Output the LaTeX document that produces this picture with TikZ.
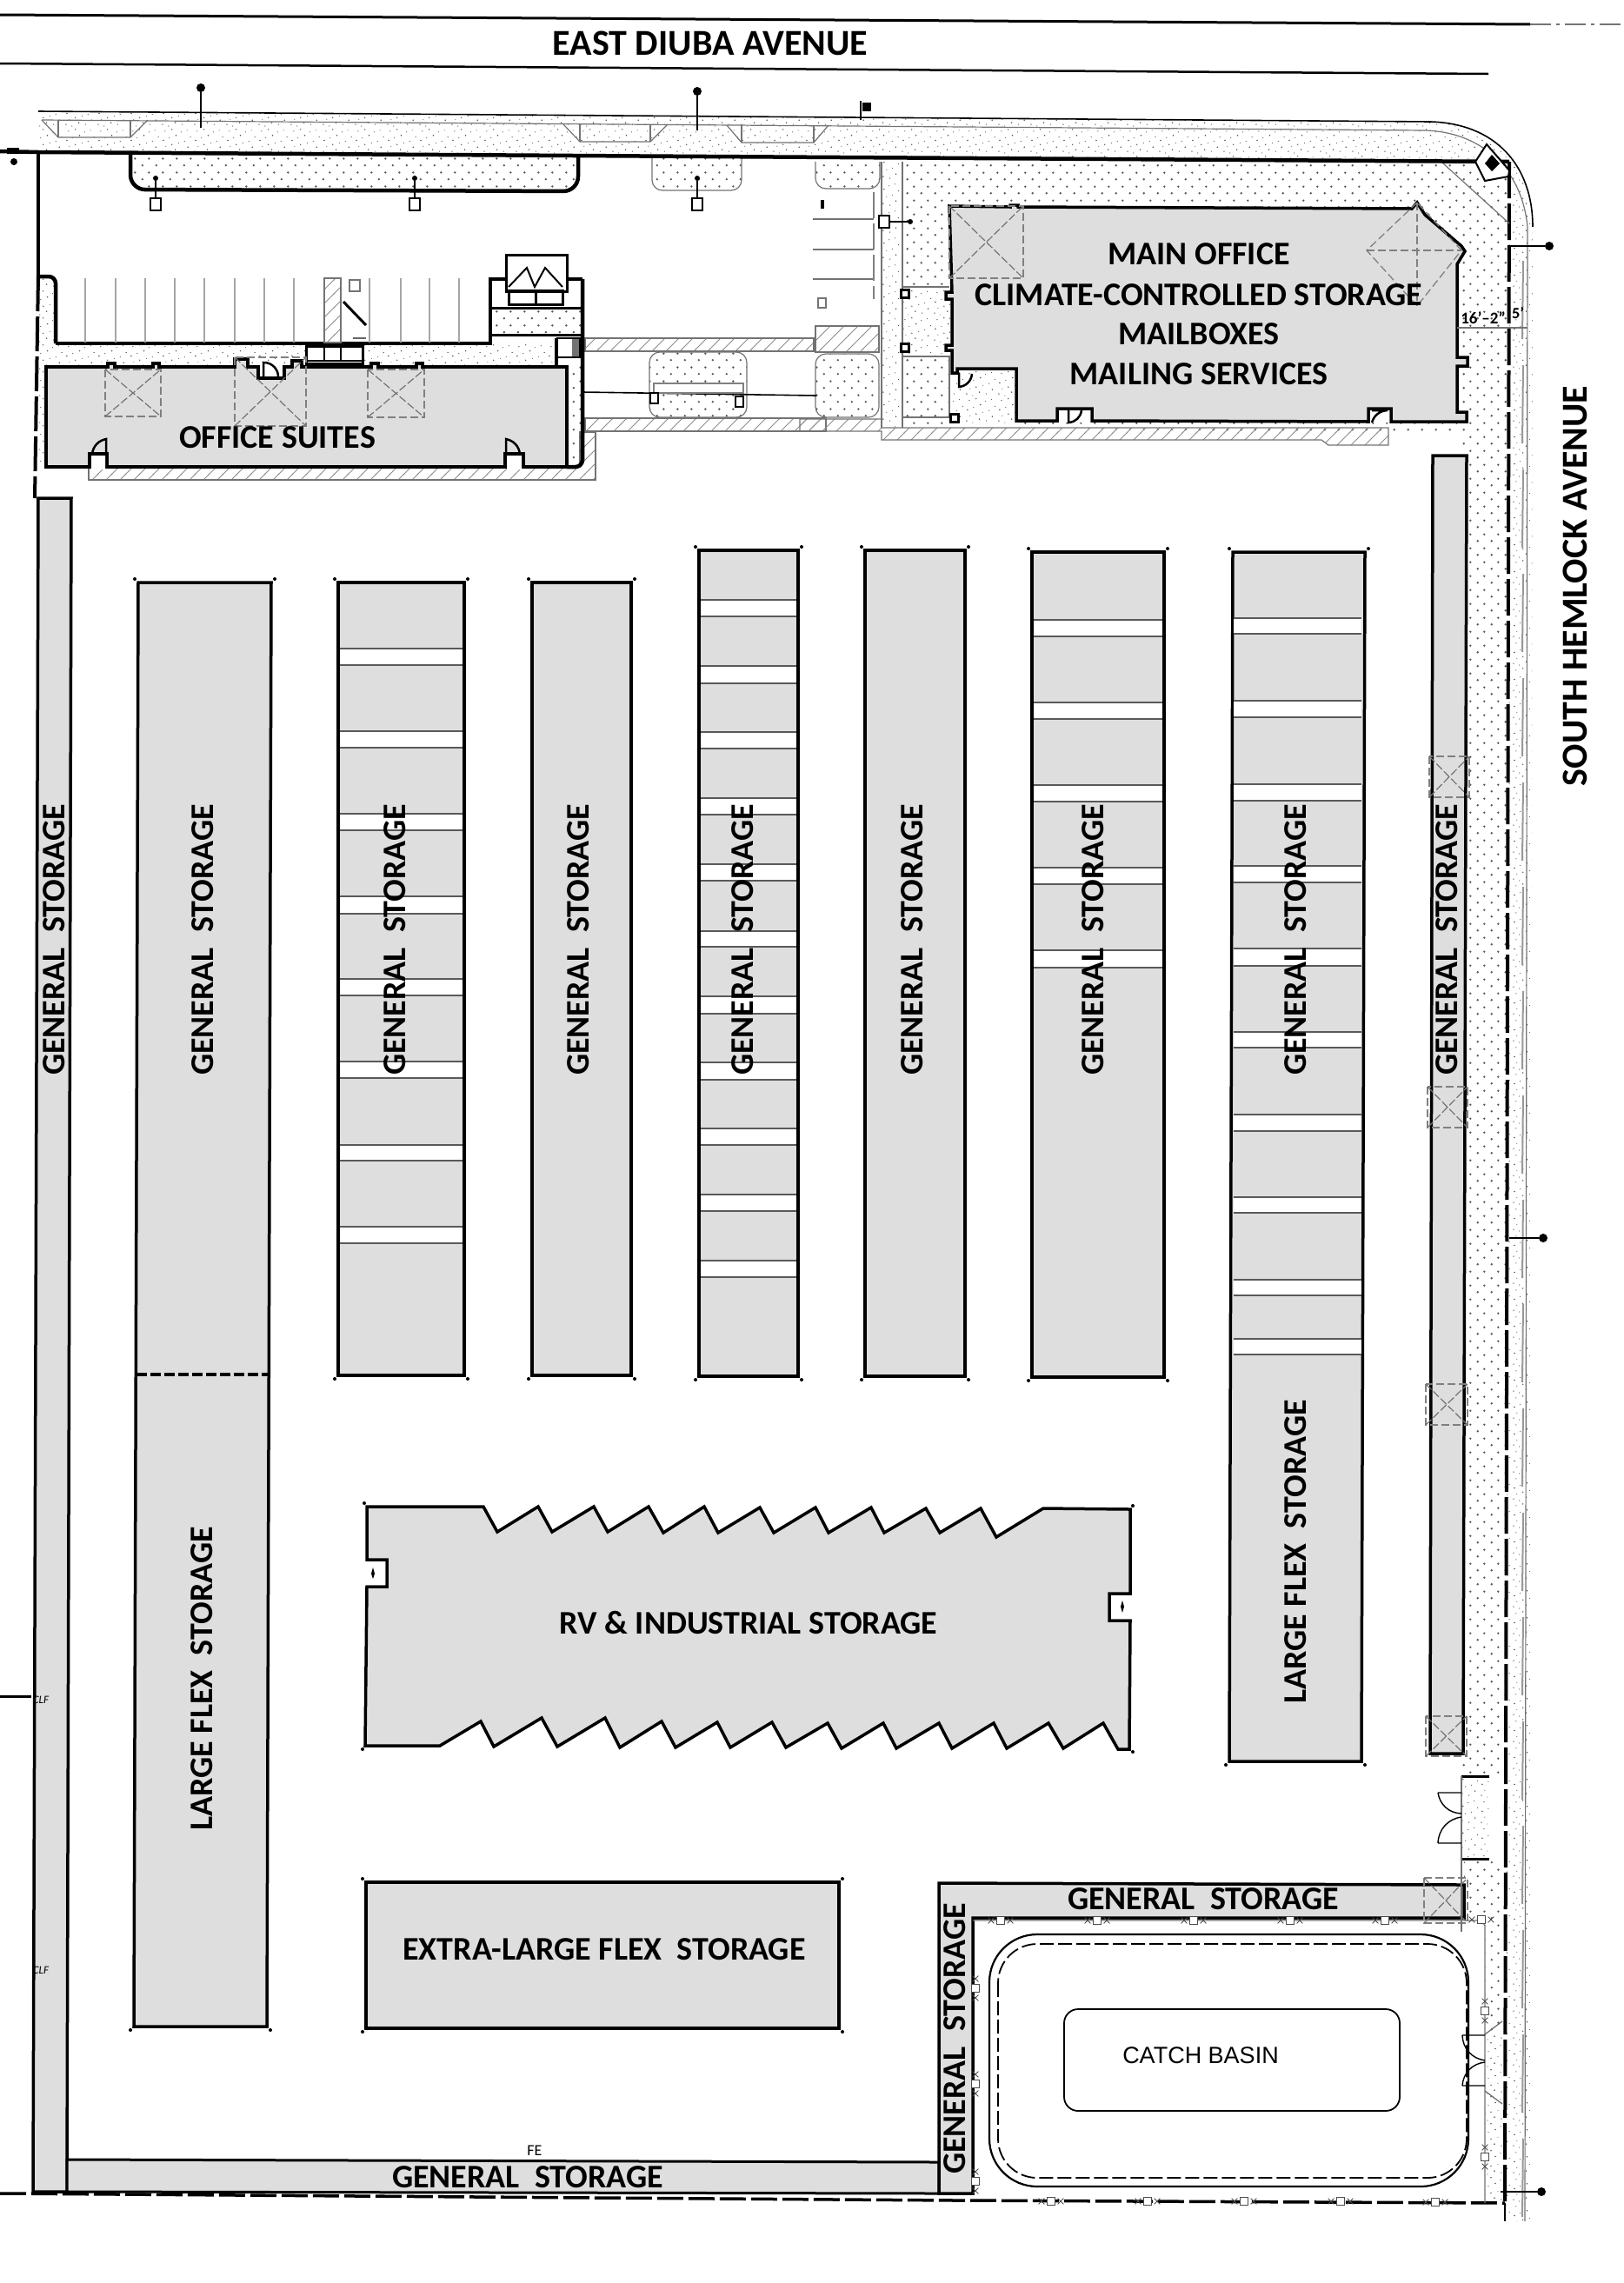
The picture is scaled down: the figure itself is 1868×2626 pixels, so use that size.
\documentclass[tikz,border=0pt]{standalone}
\usepackage{fontspec}
\setmainfont{Carlito}
\newfontfamily\basinfont{Liberation Sans}
\usetikzlibrary{patterns,shapes.misc}
\definecolor{bayfill}{HTML}{DEDEDE}
\pgfdeclarepatternformonly{plantdots}{\pgfqpoint{0pt}{0pt}}{\pgfqpoint{16pt}{16pt}}{\pgfqpoint{16pt}{16pt}}{%
    \pgfpathcircle{\pgfqpoint{4pt}{4pt}}{1.4pt}
    \pgfpathcircle{\pgfqpoint{12pt}{12pt}}{1.4pt}
    \pgfusepath{fill}}
\pgfdeclarepatternformonly{speckdots}{\pgfqpoint{0pt}{0pt}}{\pgfqpoint{37pt}{31pt}}{\pgfqpoint{37pt}{31pt}}{%
    \pgfpathcircle{\pgfqpoint{2pt}{3pt}}{.8pt}
    \pgfpathcircle{\pgfqpoint{9pt}{1pt}}{.6pt}
    \pgfpathcircle{\pgfqpoint{17pt}{5pt}}{.9pt}
    \pgfpathcircle{\pgfqpoint{6pt}{9pt}}{.6pt}
    \pgfpathcircle{\pgfqpoint{13pt}{11pt}}{.8pt}
    \pgfpathcircle{\pgfqpoint{21pt}{13pt}}{.6pt}
    \pgfpathcircle{\pgfqpoint{3pt}{16pt}}{.9pt}
    \pgfpathcircle{\pgfqpoint{10pt}{19pt}}{.6pt}
    \pgfpathcircle{\pgfqpoint{25pt}{3pt}}{.7pt}
    \pgfpathcircle{\pgfqpoint{32pt}{8pt}}{.9pt}
    \pgfpathcircle{\pgfqpoint{28pt}{15pt}}{.6pt}
    \pgfpathcircle{\pgfqpoint{35pt}{20pt}}{.7pt}
    \pgfpathcircle{\pgfqpoint{18pt}{22pt}}{.9pt}
    \pgfpathcircle{\pgfqpoint{24pt}{26pt}}{.6pt}
    \pgfpathcircle{\pgfqpoint{5pt}{27pt}}{.7pt}
    \pgfpathcircle{\pgfqpoint{13pt}{29pt}}{.8pt}
    \pgfpathcircle{\pgfqpoint{31pt}{28pt}}{.6pt}
    \pgfusepath{fill}}
\pgfdeclarepatternformonly{walkhatch}{\pgfqpoint{-1pt}{-1pt}}{\pgfqpoint{17pt}{17pt}}{\pgfqpoint{16pt}{16pt}}{%
    \pgfsetlinewidth{1pt}
    \pgfpathmoveto{\pgfqpoint{-1pt}{-1pt}}
    \pgfpathlineto{\pgfqpoint{17pt}{17pt}}
    \pgfusepath{stroke}}
\tikzset{
   bay/.style = {%
    draw=black,
    fill=bayfill,
    line width=3.5pt,
    line join=miter},
   gaprule/.style = {%
    draw=black!65,
    line width=1.6pt},
   baytext/.style = {%
    inner sep=0pt,
    font=\fontsize{38}{38}\selectfont\bfseries},
   uptext/.style = {%
    baytext,
    rotate=90},
   planting/.style = {%
    pattern=plantdots,
    pattern color=black!65},
   speck/.style = {%
    pattern=speckdots,
    pattern color=black!65},
   hatchwalk/.style = {%
    pattern=walkhatch,
    pattern color=black!45},
   thinline/.style = {%
    draw=black!55,
    line width=1.2pt},
   curb/.style = {%
    draw=black,
    line width=4.5pt},
   xbox/.style = {%
    draw=black!50,
    line width=1.3pt,
    dash pattern=on 9pt off 4pt},
   cornerdot/.style = {%
    circle,
    fill=black,
    inner sep=0pt,
    minimum size=4pt},
   lampdot/.style = {%
    circle,
    fill=black,
    inner sep=0pt,
    minimum size=9pt},
   lampbox/.style = {%
    draw=black,
    fill=white,
    line width=2pt,
    inner sep=0pt,
    minimum width=12pt,
    minimum height=14pt},
   postbox/.style = {%
    draw=black!70,
    fill=white,
    line width=1.2pt,
    inner sep=0pt,
    minimum size=9pt},
   postmark/.style = {%
    cross out,
    draw=black!70,
    line width=.8pt,
    inner sep=0pt,
    minimum size=6pt},
   doorline/.style = {%
    draw=black,
    line width=2.5pt},
}
% one rectangular building with its four corner points
\newcommand{\storagebay}[4]{%
    \draw[bay] (#1,#3) rectangle (#2,#4);
    \foreach \cx/\cy in {#1-4/#3-4,#2+4/#3-4,#1-4/#4+4,#2+4/#4+4}
        \node[cornerdot] at (\cx,\cy) {};
}
% white aisles across a building
\newcommand{\bayaisles}[3]{%
    \foreach \ya/\yb in {#3}{
        \fill[white] (#1,\ya) rectangle (#2,\yb);
        \draw[gaprule] (#1,\ya) -- (#2,\ya) (#1,\yb) -- (#2,\yb);
    }
}
\begin{document}
\begin{tikzpicture}[x=1pt,y=-1pt]
    \useasboundingbox (0,0) rectangle (1868,2626);

    % streets
    \draw[line width=3pt] (0,17) -- (1760,28);
    \draw[thinline, dash pattern=on 24pt off 6pt on 4pt off 6pt] (1760,28) -- (1868,28);
    \draw[line width=2.5pt] (0,73) -- (1712,85);

    % sidewalk and planting
    \path[speck] (44,128) -- (1645,140) .. controls (1720,142) and (1763,190) .. (1763,261)
        -- (1760,2555) -- (1732,2555) -- (1736,186) -- (44,175) -- cycle;
    \draw[line width=1.6pt] (44,128) -- (1645,140) .. controls (1720,142) and (1763,190) .. (1763,261);
    \draw[thinline] (48,138) -- (1640,150) .. controls (1700,152) and (1750,190) .. (1757,261) -- (1754,2555);
    \foreach \xa/\xb/\xc/\xd/\ya in {48/67/150/170/138,648/667/748/768/143,836/853/936/953/144}{
        \draw[thinline] (\xa,\ya) -- (\xb,\ya+20) -- (\xc,\ya+20) -- (\xd,\ya);
        \draw[thinline] (\xb,\ya) -- (\xb,\ya+20) (\xc,\ya) -- (\xc,\ya+20);
    }
    \path[planting] (1038,186) -- (1736,186) -- (1733,2040) -- (1681,2040) -- (1681,500) -- (1038,490) -- cycle;
    \path[speck] (1014,186) rectangle (1038,490);
    \draw[thinline] (1014,186) -- (1014,492) (1038,186) -- (1038,492) (1038,330) -- (1092,330);
    \fill[white] (1039,331) rectangle (1092,408);
    \path[speck] (1039,331) rectangle (1092,408);
    \fill[white] (1095,425) rectangle (1168,488);
    \path[speck] (1095,425) rectangle (1168,488);
    \fill[white] (1681,2043) rectangle (1713,2138);
    \path[speck] (1681,2043) rectangle (1713,2138);
    \path[planting] (1684,2140) -- (1729,2140) -- (1728,2532) -- (1708,2532) -- (1708,2210) -- (1684,2210) -- cycle;
    \fill[white] (1708,2340) rectangle (1728,2532);
    \path[speck] (1708,2340) rectangle (1728,2532);

    % islands
    \draw[curb, planting, rounded corners=17pt] (150,178) -- (150,218) -- (665,220) -- (665,180);
    \draw[thinline, planting, rounded corners=12pt] (750,182) -- (750,219) -- (853,219) -- (853,182);
    \draw[thinline, planting, rounded corners=12pt] (938,186) -- (938,217) -- (1012,217) -- (1012,186);
    \draw[thinline, planting, rounded corners=12pt] (747,405) rectangle (859,480);
    \draw[thinline, planting, rounded corners=12pt] (938,407) rectangle (1011,480);
    \draw[thinline] (1038,410) rectangle (1092,480);

    % walks
    \draw[thinline, hatchwalk] (673,389) rectangle (936,404);
    \draw[thinline, hatchwalk] (938,375) rectangle (1011,405);
    \draw[thinline, hatchwalk] (673,481) rectangle (950,496);
    \draw[thinline, hatchwalk] (102,537) -- (667,537) -- (667,497) -- (685,497) -- (685,552) -- (102,552) -- cycle;
    \draw[thinline, hatchwalk] (920,482) -- (1014,482) -- (1014,492) -- (1597,492) -- (1597,512) -- (1528,512) -- (1520,506) -- (1014,506) -- (1014,496) -- (920,496) -- cycle;

    % property line
    \draw[line width=4.5pt] (0,174) -- (44,175) -- (1736,186);
    \draw[line width=4.5pt] (44,175) -- (44,318);
    \draw[line width=4pt, dash pattern=on 40pt off 6pt] (44,318) -- (40,573);
    \draw[line width=4pt, dash pattern=on 42pt off 6pt] (1736,186) -- (1731,2534);
    \draw[line width=2pt] (1731,2534) -- (1731,2555);
    \draw[line width=3.5pt, dash pattern=on 30pt off 6pt] (0,2523) -- (1100,2531) -- (1731,2534);
    \foreach \yb in {300,420,540,660,780,900,1020,1140,1260,1380,1500,1620,1740,1860,1980,2100,2220,2340,2460}
        \draw[draw=black!40, line width=2pt] (1752,\yb) -- (1751,\yb+90);
    \draw[thinline] (1660,188) -- (1736,257);
    \draw[line width=2pt, fill=white] (1697,186) -- (1710,166) -- (1736,196) -- (1735,203) -- (1708,208) -- cycle;
    \fill (1716,178) -- (1725,188) -- (1716,197) -- (1708,188) -- cycle;

    % office suites forecourt
    \path[speck] (44,318) -- (52,318) -- (64,328) -- (64,395) -- (640,395) -- (640,420) -- (64,420) -- (53,537) -- (44,537) -- cycle;
    \path[planting] (652,420) rectangle (670,537);
    \path[planting] (564,354) rectangle (670,385);
    \draw[curb, rounded corners=8pt] (44,318) -- (64,318) -- (64,395);
    \draw[curb] (64,395) -- (564,395) -- (564,321) -- (582,321);
    \draw[curb] (652,321) -- (670,321);
    \draw[curb, rounded corners=8pt] (670,321) -- (670,537) -- (652,537);
    \draw[line width=3pt] (564,354) -- (670,354) (564,385) -- (670,385);
    \draw[line width=3pt] (582,293) rectangle (652,335);
    \draw[line width=2pt] (585,330) -- (606,308) -- (615,330) -- (627,308) -- (647,330);
    \draw[line width=3pt] (585,334) rectangle (647,350) (616,334) -- (616,350);
    \draw[line width=3.5pt] (640,389) -- (640,420);
    \draw[line width=2pt] (641,389) rectangle (667,411);
    \fill[black!55] (658,390) rectangle (666,410);
    \foreach \xs in {98,133,167,201,235,270,304,338,425,461,494,528}
        \draw[thinline, draw=black!35] (\xs,320) -- (\xs,394);
    \draw[thinline, hatchwalk] (373,320) rectangle (392,394);
    \draw[line width=3pt] (395,347) -- (421,374);
    \draw[line width=2.5pt, draw=black!60] (406,389) -- (421,389);
    \draw[thinline] (402,322) rectangle (414,335);
    \draw[line width=3pt, fill=white] (352,398) rectangle (417,418);
    \draw[line width=2pt] (373,398) -- (373,415) (392,398) -- (392,415) (352,415) -- (417,415);

    % parking on the east drive
    \foreach \ys in {252,287,321}
        \draw[thinline] (935,\ys) -- (1005,\ys);
    \draw[draw=black!50, line width=2pt, dash pattern=on 30pt off 6pt] (1005,221) -- (1005,344);
    \fill (944,230) rectangle (948,240);
    \draw[thinline] (941,343) rectangle (950,354);
    \draw[line width=1.6pt] (670,451) -- (939,455);
    \draw[line width=1.4pt, draw=black!50, fill=white] (752,441) rectangle (855,452);
    \draw[line width=1.6pt, fill=white] (748,452) rectangle (757,464);
    \draw[line width=1.6pt, fill=white] (846,456) rectangle (855,468);

    % buildings
    \storagebay{389}{534}{670}{1582}
    \bayaisles{391}{532}{746/765,841/860,936/955,1031/1051,1126/1145,1221/1240,1317/1335,1411/1430}
    \storagebay{612}{726}{670}{1582}
    \storagebay{804}{918}{633}{1583}
    \bayaisles{806}{916}{690/709,766/786,842/861,918/937,994/1013,1071/1089,1146/1166,1222/1242,1298/1317,1374/1393,1450/1469}
    \storagebay{995}{1110}{633}{1583}
    \storagebay{1187}{1339}{635}{1584}
    \bayaisles{1189}{1337}{713/732,808/827,903/922,998/1017,1093/1113}
    \draw[bay] (1418,635) -- (1570,635) -- (1566,2026) -- (1414,2026) -- cycle;
    \foreach \cx/\cy in {1414/631,1574/631,1410/2030,1570/2030}
        \node[cornerdot] at (\cx,\cy) {};
    \bayaisles{1419}{1566}{711/729,806/825,902/921,996/1015,1091/1111,1187/1205,1282/1301,1377/1395,1472/1490,1540/1558}
    % west row
    \draw[bay] (159,670) -- (312,670) -- (307,2331) -- (154,2331) -- cycle;
    \draw[draw=bayfill, line width=3.5pt] (157,1581) -- (310,1581);
    \draw[line width=3.5pt, dash pattern=on 12pt off 4pt] (157,1581) -- (310,1581);
    \foreach \cx/\cy in {155/666,316/666,150/2335,311/2335}
        \node[cornerdot] at (\cx,\cy) {};
    \draw[bay] (44,573) -- (82,573) -- (77,2521) -- (38,2521) -- cycle;
    \draw[bay, line width=3pt] (77,2484) -- (1080,2487) -- (1080,2523) -- (77,2521) -- cycle;
    \draw[bay] (1648,524) -- (1687,524) -- (1683,2017) -- (1645,2017) -- cycle;
    \draw[bay] (1080,2166) -- (1684,2168) -- (1684,2206) -- (1119,2206) -- (1119,2523) -- (1080,2523) -- cycle;
    \storagebay{421}{965}{2165}{2333}

    % RV and industrial storage
    \draw[bay] (422,1733) -- (556,1733) -- (572,1762) -- (619,1733) -- (635,1762) -- (683,1733)
        -- (699,1762) -- (746,1733) -- (763,1763) -- (810,1733) -- (826,1763) -- (874,1734)
        -- (890,1763) -- (938,1734) -- (953,1763) -- (1002,1734) -- (1017,1763) -- (1065,1735)
        -- (1081,1763) -- (1128,1735) -- (1146,1768) -- (1200,1735) -- (1300,1736)
        -- (1300,1833) -- (1276,1833) -- (1276,1864) -- (1300,1864) -- (1299,2012)
        -- (1286,2012) -- (1269,1982) -- (1223,2011) -- (1206,1982) -- (1158,2011)
        -- (1143,1982) -- (1095,2011) -- (1080,1982) -- (1031,2011) -- (1016,1982)
        -- (968,2011) -- (952,1982) -- (904,2010) -- (888,1981) -- (840,2010) -- (825,1981)
        -- (777,2010) -- (761,1980) -- (713,2010) -- (696,1976) -- (641,2009) -- (623,1976)
        -- (568,2009) -- (553,1980) -- (506,2008) -- (420,2008) -- (422,1825) -- (445,1825)
        -- (445,1794) -- (422,1794) -- cycle;
    \fill[white] (420,1796) rectangle (443,1823) (1278,1835) rectangle (1302,1862);
    \fill (429,1803) -- (431,1810) -- (429,1816) -- (427,1810) -- cycle;
    \fill (1291,1841) -- (1293,1848) -- (1291,1855) -- (1289,1848) -- cycle;
    \foreach \cx/\cy in {419/1729,1303/1732,417/2012,1303/2015}
        \node[cornerdot] at (\cx,\cy) {};

    % office suites
    \draw[bay] (53,422) -- (124,422) -- (124,418) -- (132,418) -- (132,422) -- (176,422) -- (176,418)
        -- (183,418) -- (183,422) -- (270,422) -- (270,413) -- (285,413) -- (285,422) -- (297,422)
        -- (297,435) -- (327,435) -- (327,422) -- (336,422) -- (336,415) -- (347,415) -- (347,422)
        -- (427,422) -- (427,418) -- (435,418) -- (435,422) -- (479,422) -- (479,418) -- (486,418)
        -- (486,422) -- (652,422) -- (652,537) -- (602,537) -- (602,522) -- (581,522) -- (581,537)
        -- (123,537) -- (123,522) -- (103,522) -- (103,537) -- (53,537) -- cycle;
    \fill[white] (105,524) rectangle (121,540) (583,524) rectangle (600,540);
    \draw[doorline] (106,522) to[bend left=35] (122,505) -- (122,522);
    \draw[doorline] (582,522) -- (582,505) to[bend left=35] (598,522);
    \draw[doorline] (303,435) -- (303,417) to[bend left=50] (320,435);

    % main office
    \draw[bay] (1092,237) -- (1162,238) -- (1162,236) -- (1171,236) -- (1171,238) -- (1624,240)
        -- (1630,233) -- (1639,247) -- (1681,283) -- (1685,289) -- (1676,304) -- (1676,411)
        -- (1688,411) -- (1688,421) -- (1676,421) -- (1676,474) -- (1687,474) -- (1687,485)
        -- (1600,485) -- (1600,470) -- (1574,470) -- (1574,485) -- (1256,484) -- (1256,470)
        -- (1216,470) -- (1216,484) -- (1169,484) -- (1169,424) -- (1101,424)
        -- (1101,429) -- (1095,429) -- (1095,403) -- (1088,403) -- (1088,397) -- (1095,397)
        -- (1095,344) -- (1088,344) -- (1088,336) -- (1095,336) -- (1092,237) -- cycle;
    \fill[white] (1218,472) rectangle (1254,486) (1576,472) rectangle (1598,486);
    \draw[doorline] (1229,472) -- (1229,486) to[bend right=40] (1244,472);
    \draw[doorline] (1578,486) to[bend left=35] (1596,472) -- (1578,472);
    \draw[doorline] (1103,429) -- (1103,445) to[bend right=40] (1118,430);

    % dashed roof hatches
    \foreach \xa/\ya/\xb/\yb in {121/425/185/479,270/411/352/490,423/425/488/480,1092/237/1177/320,
        1644/870/1690/917,1642/1250/1688/1297,1640/1592/1688/1639,1640/1974/1687/2020,1638/2160/1688/2212}{
        \draw[xbox] (\xa,\ya) rectangle (\xb,\yb);
        \draw[thinline, dash pattern=on 9pt off 3pt] (\xa,\ya) -- (\xb,\yb) (\xa,\yb) -- (\xb,\ya);
    }
    \draw[xbox] (1630,233) -- (1572,288) -- (1630,352) -- (1681,288) -- cycle;
    \draw[xbox] (1572,288) -- (1681,288) (1630,233) -- (1630,352);

    % catch basin
    \draw[line width=2.2pt, rounded corners=55pt] (1138,2225) rectangle (1689,2515);
    \draw[line width=1.8pt, dash pattern=on 16pt off 5pt, rounded corners=45pt] (1148,2236) rectangle (1687,2505);
    \draw[line width=1.8pt, rounded corners=16pt] (1224,2311) rectangle (1610,2428);
    \draw[thinline] (1119,2209) -- (1704,2209) -- (1708,2215) -- (1708,2534);

    % gate on the avenue side
    \draw[line width=3pt] (1681,2043) -- (1713,2043) (1681,2138) -- (1713,2138);
    \draw[thinline] (1681,2043) -- (1681,2222);
    \draw[line width=1.4pt] (1654,2062) -- (1681,2062) (1654,2062) to[bend right=40] (1681,2086);
    \draw[line width=1.4pt] (1654,2120) -- (1681,2120) (1654,2120) to[bend left=40] (1681,2090);
    \draw[line width=1.4pt] (1682,2341) -- (1708,2341) (1682,2341) to[bend right=40] (1708,2370);
    \draw[line width=1.4pt] (1682,2399) -- (1708,2399) (1682,2399) to[bend left=40] (1708,2372);
    \draw[line width=1.2pt, draw=black!60] (1708,2340) -- (1728,2325) (1708,2405) -- (1728,2420);

    % fence posts
    \foreach \px/\py in {1209/2532,1320/2532,1431/2532,1542/2532,1651/2533,1151/2209,1262/2209,1373/2209,1484/2209,1593/2209,1704/2208}{
        \node[postbox] at (\px,\py) {};
        \node[postmark] at (\px-11,\py) {};
        \node[postmark] at (\px+11,\py) {};
    }
    \foreach \px/\py in {1122/2287,1122/2397,1122/2509,1708/2313,1708/2481}{
        \node[postbox] at (\px,\py) {};
        \node[postmark] at (\px,\py-11) {};
        \node[postmark] at (\px,\py+11) {};
    }

    % lights
    \foreach \nm/\lx in {lighta/179,lightb/477,lightc/802}{
        \node[lampdot, minimum size=6pt] (\nm) at (\lx,205) {};
        \node[lampbox] (\nm box) at (\lx,235) {};
        \draw[line width=2pt] (\nm) -- (\nm box);
    }
    \node[lampdot, minimum size=6pt] (lightd) at (1047,255) {};
    \node[lampbox] (lightdbox) at (1017,255) {};
    \draw[line width=2pt] (lightd) -- (lightdbox);
    \foreach \nm/\sx/\sy/\ex/\ey in {polea/231/101/231/147,poleb/802/105/802/150,polec/1782/283/1736/283,poled/1775/1424/1736/1424,polee/1773/2521/1726/2521}{
        \node[lampdot, minimum size=10pt] (\nm) at (\sx,\sy) {};
        \coordinate (\nm end) at (\ex,\ey);
        \draw[line width=1.6pt] (\nm) -- (\nm end);
    }
    \coordinate (signa) at (990,116);
    \coordinate (signb) at (990,138);
    \draw[line width=2pt] (signa) -- (signb);
    \fill (992,118) rectangle (1002,128);
    \coordinate (ticka) at (0,1951);
    \coordinate (tickb) at (36,1951);
    \draw[line width=3pt] (ticka) -- (tickb);
    \fill (16,186) circle (4pt);
    \fill (8,170) rectangle (22,177);

    % small square posts by the main office
    \foreach \nm/\px/\py in {posta/1041/338,postb/1041/400,postc/1098/481}
        \node[lampbox, minimum width=9pt, minimum height=9pt, line width=3pt] (\nm) at (\px,\py) {};

    % 16'-2" and 5' setbacks
    \coordinate (dima) at (1676,377);
    \coordinate (dimb) at (1757,377);
    \draw[thinline] (dima) -- (dimb);
    \node[inner sep=0pt, font=\fontsize{19}{19}\selectfont\bfseries] (setbacka) at (1706,366) {16'--2"};
    \node[inner sep=0pt, font=\fontsize{18}{18}\selectfont\bfseries] (setbackb) at (1746,360) {5'};
    \node[inner sep=0pt, font=\fontsize{18}{18}\selectfont] (extinguisher) at (615,2474) {FE};
    \node[inner sep=0pt, font=\fontsize{13}{13}\selectfont\itshape] (clfa) at (47,1955) {CLF};
    \node[inner sep=0pt, font=\fontsize{13}{13}\selectfont\itshape] (clfb) at (47,2266) {CLF};

    % labels
    \node[baytext, font=\fontsize{42}{42}\selectfont\bfseries] (eastave) at (817,50) {EAST DIUBA AVENUE};
    \node[uptext, font=\fontsize{42}{42}\selectfont\bfseries] (southave) at (1812,674) {SOUTH HEMLOCK AVENUE};
    \node[baytext] (officelabel) at (319,503) {OFFICE SUITES};
    \node[baytext] (mainlabel) at (1379,292) {MAIN OFFICE};
    \node[baytext] (climatelabel) at (1379,339) {CLIMATE-CONTROLLED STORAGE};
    \node[baytext] (maillabel) at (1379,384) {MAILBOXES};
    \node[baytext] (servicelabel) at (1379,430) {MAILING SERVICES};
    \foreach \nm/\lx in {gena/62,genb/233,genc/454,gend/665,gene/854,genf/1049,geng/1257,genh/1490,geni/1664}
        \node[uptext] (\nm) at (\lx,1081) {GENERAL\ \ STORAGE};
    \node[uptext] (flexa) at (232,1931) {LARGE FLEX\ \ STORAGE};
    \node[uptext] (flexb) at (1490,1785) {LARGE FLEX\ \ STORAGE};
    \node[baytext] (rvlabel) at (861,1866) {RV \& INDUSTRIAL STORAGE};
    \node[baytext] (xlflex) at (695,2242) {EXTRA-LARGE FLEX\ \ STORAGE};
    \node[baytext] (gentop) at (1384,2184) {GENERAL\ \ STORAGE};
    \node[uptext] (genside) at (1098,2345) {GENERAL\ \ STORAGE};
    \node[baytext] (genbottom) at (607,2504) {GENERAL\ \ STORAGE};
    \node[inner sep=0pt, font=\basinfont\fontsize{27}{27}\selectfont] (basinlabel) at (1381,2364) {CATCH BASIN};
\end{tikzpicture}
\end{document}
